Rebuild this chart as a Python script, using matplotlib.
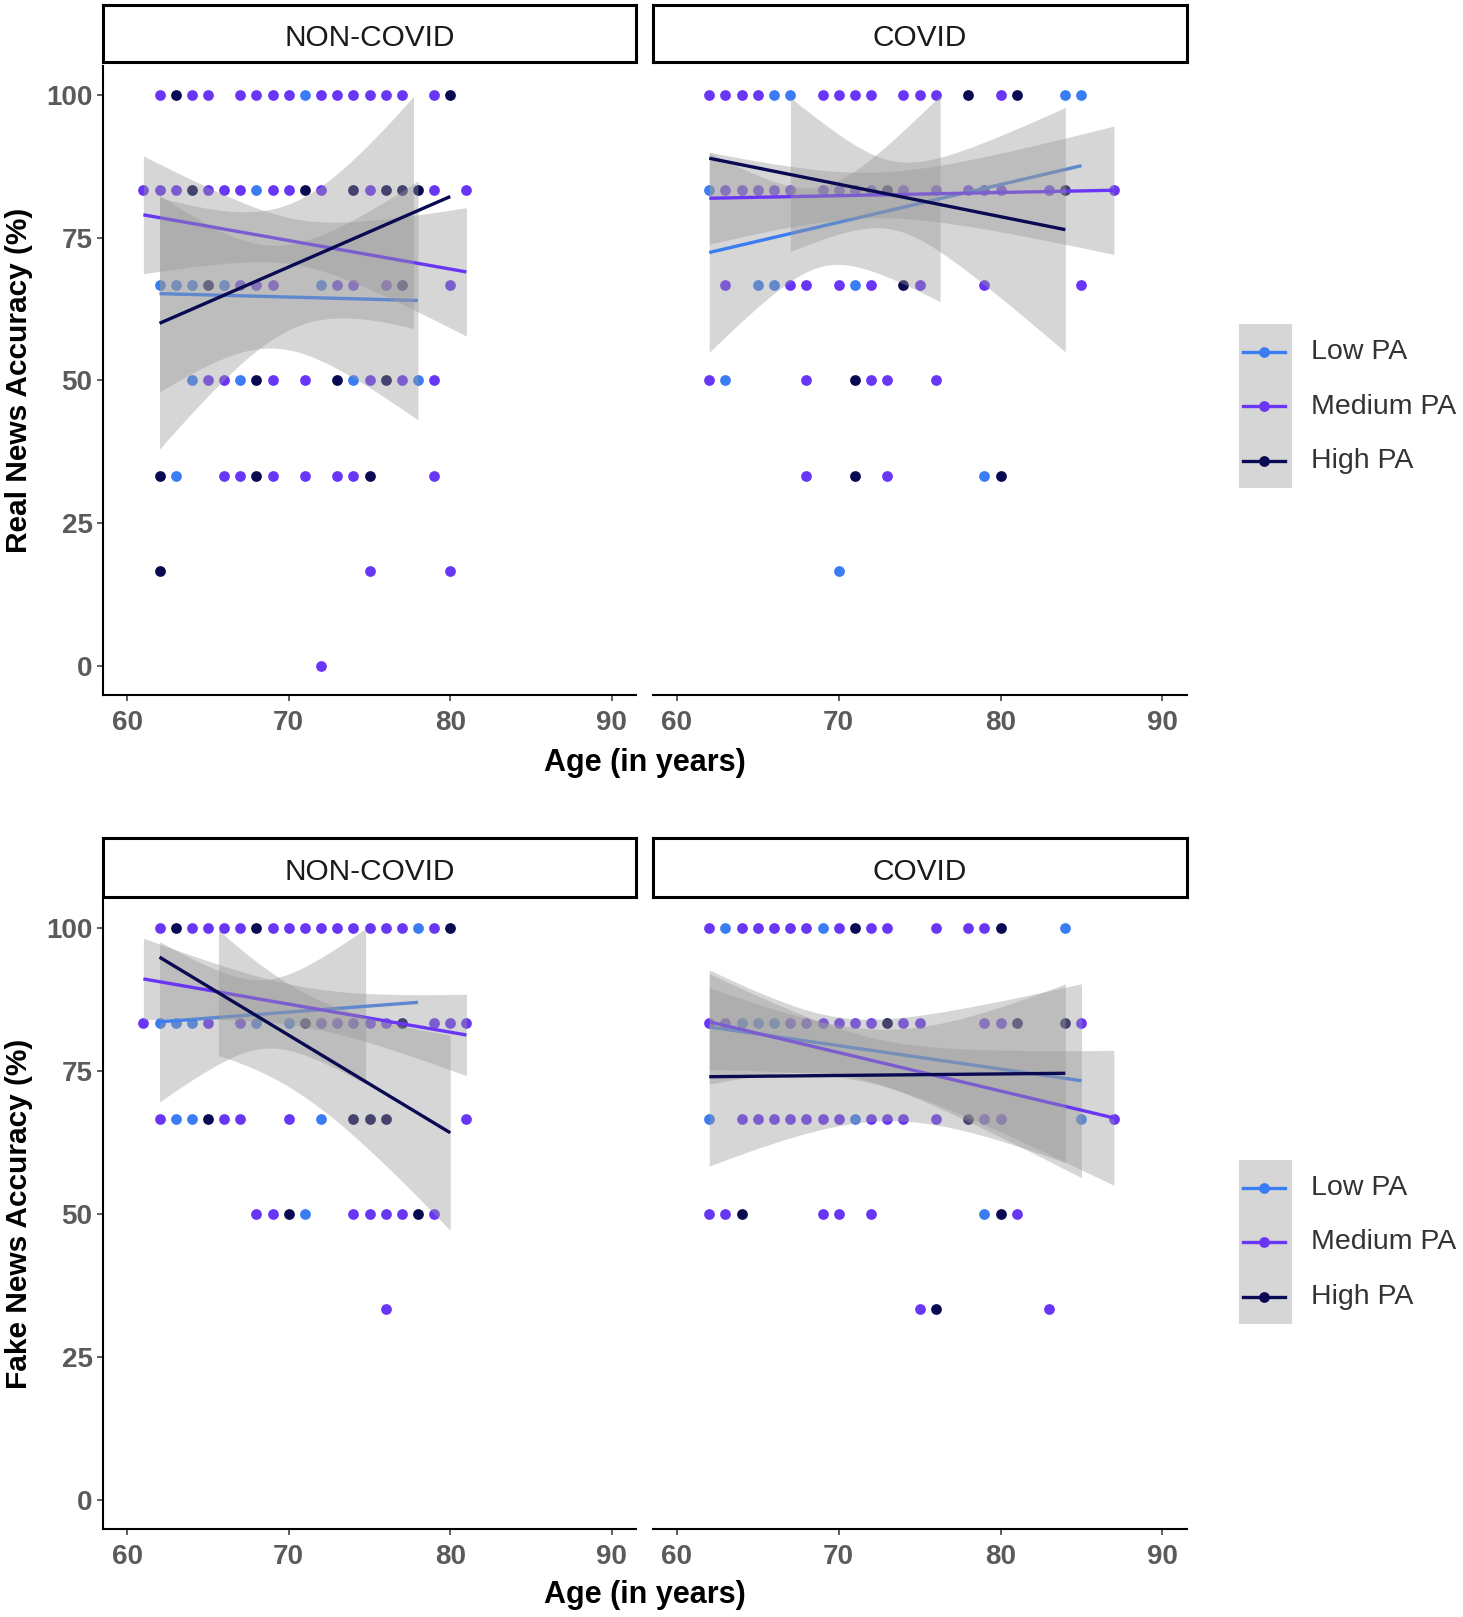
import numpy as np
import matplotlib
matplotlib.use('Agg')
import matplotlib.pyplot as plt
from matplotlib.patches import Rectangle

plt.rcParams['font.family'] = ['Liberation Sans', 'DejaVu Sans']

W, H = 1463, 1617

groups = ['Low PA', 'Medium PA', 'High PA']
colors = ['#3A7DF2', '#6A36F6', '#0A0A52']
scores = [100, 83.33, 66.67, 50, 33.33, 16.67, 0]

# ages of participants at each score level (same order as scores)
real_noncovid = {
    'Low PA':    [[71], [68], [62, 63, 64, 66, 72], [64, 67, 74, 78], [63], [], []],
    'Medium PA': [[62, 64, 65, 67, 68, 69, 70, 72, 73, 74, 75, 76, 77, 79],
                  [61, 62, 63, 65, 66, 67, 69, 70, 72, 75, 79, 81],
                  [67, 68, 69, 73, 74, 76, 80],
                  [65, 66, 69, 71, 75, 77, 79],
                  [66, 67, 69, 71, 73, 74, 79],
                  [75, 80], [72]],
    'High PA':   [[63, 80], [64, 71, 74, 76, 77, 78], [65, 77], [68, 73, 76],
                  [62, 68, 75], [62], []],
}
real_covid = {
    'Low PA':    [[66, 67, 84, 85], [62], [65, 66, 71], [63], [79], [70], []],
    'Medium PA': [[62, 63, 64, 65, 69, 70, 71, 72, 74, 75, 76, 80],
                  [63, 64, 65, 66, 67, 69, 70, 71, 72, 74, 76, 78, 79, 80, 83, 87],
                  [63, 67, 68, 70, 72, 75, 79, 85],
                  [62, 68, 72, 73, 76],
                  [68, 73], [], []],
    'High PA':   [[78, 81], [73, 84], [74], [71], [71, 80], [], []],
}
fake_noncovid = {
    'Low PA':    [[78], [62, 63, 64, 68, 70], [63, 64, 72], [71], [], [], []],
    'Medium PA': [[62, 64, 65, 66, 67, 69, 70, 71, 72, 73, 74, 75, 76, 77, 79],
                  [61, 65, 67, 72, 73, 74, 75, 76, 79, 80, 81],
                  [62, 66, 67, 70, 81],
                  [68, 69, 74, 75, 76, 77, 79],
                  [76], [], []],
    'High PA':   [[63, 68, 80], [71, 77], [65, 74, 75, 76], [70, 78], [], [], []],
}
fake_covid = {
    'Low PA':    [[63, 69, 84], [64, 65, 66], [62, 71, 85], [79], [], [], []],
    'Medium PA': [[62, 64, 65, 66, 67, 68, 70, 72, 73, 76, 78, 79],
                  [62, 63, 67, 68, 69, 70, 71, 72, 74, 75, 79, 80, 85],
                  [64, 65, 66, 67, 68, 69, 70, 72, 73, 74, 76, 79, 80, 87],
                  [62, 63, 69, 70, 72, 81],
                  [75, 83], [], []],
    'High PA':   [[71, 80], [73, 81, 84], [78], [64, 80], [76], [], []],
}

# linear fits: (age_from, age_to, fit_from, fit_to, se_centre, se_min, se_growth)
fit_real_noncovid = {'Low PA': (62, 78, 65.2, 64.0, 69, 9, 2.1),
                     'Medium PA': (61, 81, 79.0, 69.0, 70.5, 4, 1.0),
                     'High PA': (62, 80, 60.0, 82.2, 70.3, 11, 2.3)}
fit_real_covid = {'Low PA': (62, 85, 72.4, 87.6, 69, 7, 2.29),
                  'Medium PA': (62, 87, 81.9, 83.3, 72, 4, 0.70),
                  'High PA': (62, 84, 88.9, 76.4, 73.3, 6, 1.92)}
fit_fake_noncovid = {'Low PA': (62, 78, 83.6, 87.0, 68.5, 6, 1.95),
                     'Medium PA': (61, 81, 91.1, 81.3, 71, 3.5, 0.62),
                     'High PA': (62, 80, 94.9, 64.2, 70, 9, 1.45)}
fit_fake_covid = {'Low PA': (62, 85, 82.7, 73.3, 70, 5, 1.08),
                  'Medium PA': (62, 87, 83.6, 66.8, 72, 4, 0.74),
                  'High PA': (62, 84, 74.0, 74.6, 73, 8, 1.22)}


def box(x0, y0, x1, y1):
    return [x0 / W, 1 - y1 / H, (x1 - x0) / W, (y1 - y0) / H]


def draw_panel(ax, pts, fits, left):
    for g, c in zip(groups, colors):
        for s, ages in zip(scores, pts[g]):
            ax.scatter(ages, [s] * len(ages), s=60, color=c, lw=0, zorder=2)
    z = 3
    for g, c in zip(groups, colors):
        a0, a1, f0, f1, xc, h0, k = fits[g]
        xs = np.linspace(a0, a1, 80)
        fit = f0 + (f1 - f0) * (xs - a0) / (a1 - a0)
        hw = np.sqrt(h0 ** 2 + (k * (xs - xc)) ** 2)
        lo, hi = fit - hw, fit + hw
        ok = (hi <= 100) & (lo >= 0)
        ax.fill_between(xs, lo, hi, where=ok, color='#999999', alpha=0.4, lw=0, zorder=z)
        ax.plot(xs, fit, color=c, lw=2.4, zorder=z + 0.5, solid_capstyle='butt')
        z += 1
    ax.set_xlim(58.5, 91.5)
    ax.set_ylim(-5, 105)
    ax.set_xticks([60, 70, 80, 90])
    ax.spines['top'].set_visible(False)
    ax.spines['right'].set_visible(False)
    ax.spines['bottom'].set_linewidth(1.5)
    ax.spines['left'].set_linewidth(1.5)
    ax.tick_params(labelsize=20, labelcolor='#5A5A5A', color='#444444',
                   length=4, width=1.2)
    ax.tick_params(axis='x', pad=7)
    for lab in ax.get_xticklabels() + ax.get_yticklabels():
        lab.set_fontweight('bold')
    if left:
        ax.set_yticks([0, 25, 50, 75, 100])
        for lab in ax.get_yticklabels():
            lab.set_fontweight('bold')
    else:
        ax.spines['left'].set_visible(False)
        ax.set_yticks([])


def draw_strip(pos, label):
    sax = fig.add_axes(pos)
    sax.set_xticks([])
    sax.set_yticks([])
    for sp in sax.spines.values():
        sp.set_linewidth(2.2)
        sp.set_color('black')
    sax.text(0.5, 0.42, label, ha='center', va='center', fontsize=21.5,
             color='#1A1A1A', transform=sax.transAxes)


def draw_legend(y_top):
    lax = fig.add_axes(box(1239, y_top, 1463, y_top + 164))
    lax.set_xlim(1239, 1463)
    lax.set_ylim(y_top + 164, y_top)
    lax.axis('off')
    lax.add_patch(Rectangle((1239, y_top), 52.5, 164, color='#D6D6D6', lw=0))
    for i, (g, c) in enumerate(zip(groups, colors)):
        yc = y_top + 28 + 54.5 * i
        lax.plot([1243, 1285], [yc, yc], color=c, lw=2.4)
        lax.scatter([1264], [yc], s=60, color=c, lw=0, zorder=3)
        lax.text(1311, yc, g, va='center', ha='left', fontsize=20.5, color='#333333')


fig = plt.figure(figsize=(W / 100, H / 100), dpi=100)

panels = [
    (box(103, 66.3, 636, 694.6), real_noncovid, fit_real_noncovid, True),
    (box(652.6, 66.3, 1186.7, 694.6), real_covid, fit_real_covid, False),
    (box(103, 899.4, 636, 1528.6), fake_noncovid, fit_fake_noncovid, True),
    (box(652.6, 899.4, 1186.7, 1528.6), fake_covid, fit_fake_covid, False),
]
for pos, pts, fits, left in panels:
    ax = fig.add_axes(pos)
    draw_panel(ax, pts, fits, left)

draw_strip(box(103, 5, 636, 62), 'NON-COVID')
draw_strip(box(652.6, 5, 1186.7, 62), 'COVID')
draw_strip(box(103, 838, 636, 897), 'NON-COVID')
draw_strip(box(652.6, 838, 1186.7, 897), 'COVID')

fig.text(645 / W, 1 - 763 / H, 'Age (in years)', ha='center', va='center',
         fontsize=22, fontweight='bold')
fig.text(645 / W, 1 - 1595 / H, 'Age (in years)', ha='center', va='center',
         fontsize=22, fontweight='bold')
fig.text(19 / W, 1 - 380 / H, 'Real News Accuracy (%)', rotation=90,
         ha='center', va='center', fontsize=21.5, fontweight='bold')
fig.text(19 / W, 1 - 1214 / H, 'Fake News Accuracy (%)', rotation=90,
         ha='center', va='center', fontsize=21.5, fontweight='bold')

draw_legend(324)
draw_legend(1160)

fig.savefig('out.png', dpi=100)
